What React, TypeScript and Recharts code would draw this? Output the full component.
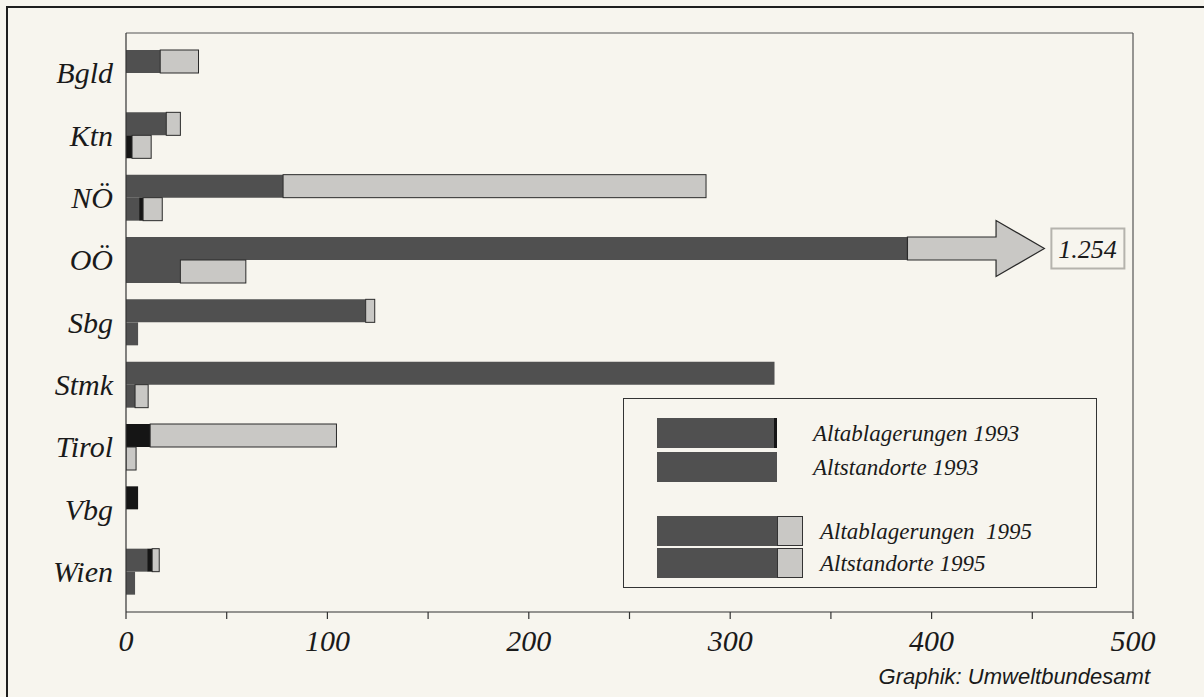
import React from 'react';
import { BarChart, Bar, XAxis, YAxis, Legend } from 'recharts';

// Bundesländer
const categories = ['Bgld', 'Ktn', 'NÖ', 'OÖ', 'Sbg', 'Stmk', 'Tirol', 'Vbg', 'Wien'];

// Altablagerungen: Stand 1993 / Stand 1995, davon schwarz gedruckter Teil
const altablagerungen1993 = [17, 20, 78, 388, 119, 322, 12, 6, 13];
const altablagerungen1995 = [36, 27, 288, 1254, 123.5, 322, 104.5, 6, 16.5];
const altablagerungenBlack = [0, 0, 0, 0, 0, 0, 12, 6, 2.5];

// Altstandorte
const altstandorte1993 = [0, 3, 8.5, 27, 6, 4.5, 0, 0, 4.5];
const altstandorte1995 = [0, 12.5, 18, 59.5, 6, 11, 5, 0, 4.5];
const altstandorteBlack = [0, 3, 2, 0, 0, 0, 0, 0, 0];

const xTicks = [0, 50, 100, 150, 200, 250, 300, 350, 400, 450, 500];
const xMax = 500;
// where the arrow for an overflowing bar starts its head / ends
const arrowHeadAt = 432;
const arrowTipAt = 456;

const legendItems = [
  { label: 'Altablagerungen 1993', added: false, edge: true },
  { label: 'Altstandorte 1993', added: false, edge: false },
  { label: 'Altablagerungen  1995', added: true, edge: false },
  { label: 'Altstandorte 1995', added: true, edge: false },
];

const DARK = '#505050';
const BLACK = '#151515';
const LIGHT = '#c9c8c5';
const PAPER = '#f7f5ee';
const SERIF = "'Liberation Serif', 'Times New Roman', serif";

const data = categories.map((name, i) => ({
  name,
  aDark: altablagerungen1993[i] - altablagerungenBlack[i],
  aBlack: altablagerungenBlack[i],
  aLight: altablagerungen1995[i] - altablagerungen1993[i],
  aStart: altablagerungen1993[i],
  aTotal: altablagerungen1995[i],
  bDark: altstandorte1993[i] - altstandorteBlack[i],
  bBlack: altstandorteBlack[i],
  bLight: altstandorte1995[i] - altstandorte1993[i],
  bStart: altstandorte1993[i],
  bTotal: altstandorte1995[i],
}));

const lightShape = (startKey: string, totalKey: string) => (props: any) => {
  const { x, y, width, height, payload } = props;
  if (!width || width <= 0.5) return null;
  const start = payload[startKey];
  const total = payload[totalKey];
  if (total <= xMax) {
    return <rect x={x} y={y} width={width} height={height} fill={LIGHT} stroke="#2a2a2a" strokeWidth={1} />;
  }
  // bar runs off the axis (recharts cuts it at xMax): draw it as an arrow with the real value beside it
  const ppu = width / (xMax - start);
  const body = x + (arrowHeadAt - start) * ppu;
  const tip = x + (arrowTipAt - start) * ppu;
  const cy = y + height / 2;
  const half = height * 1.22;
  const pts = [
    [x, y], [body, y], [body, cy - half], [tip, cy],
    [body, cy + half], [body, y + height], [x, y + height],
  ].map((p) => p.join(',')).join(' ');
  return (
    <g>
      <polygon points={pts} fill={LIGHT} stroke="#2a2a2a" strokeWidth={1.2} />
      <rect x={tip + 7} y={cy - 20} width={73} height={40} fill="none" stroke="#b5b3ad" strokeWidth={2} />
      <text x={tip + 43} y={cy} dy="0.35em" textAnchor="middle" fontFamily={SERIF} fontStyle="italic" fontSize={26} fill="#1a1a1a">
        {total.toLocaleString('de-DE')}
      </text>
    </g>
  );
};

const YTick = ({ x, y, payload }: any) => (
  <text x={x} y={y} dy="0.34em" textAnchor="end" fontFamily={SERIF} fontStyle="italic" fontSize={30} fill="#1a1a1a">
    {payload.value}
  </text>
);

const XTick = ({ x, y, payload }: any) => {
  if (payload.value % 100 !== 0) return null;
  return (
    <text x={x} y={y} dy={30} textAnchor="middle" fontFamily={SERIF} fontStyle="italic" fontSize={30} fill="#1a1a1a">
      {payload.value}
    </text>
  );
};

const LegendBox = () => (
  <div style={{ width: 474, height: 190, border: '1.5px solid #333', position: 'relative', boxSizing: 'border-box' }}>
    {legendItems.map((it, i) => {
      const top = [19, 53, 117, 149][i];
      return (
        <div key={it.label} style={{ position: 'absolute', left: 0, top, width: 474, height: 30 }}>
          <div style={{ position: 'absolute', left: 33, top: 0, width: 120, height: 30, background: DARK, boxSizing: 'border-box', borderRight: it.edge ? `3px solid ${BLACK}` : 'none' }} />
          {it.added && (
            <div style={{ position: 'absolute', left: 153, top: 0, width: 26, height: 30, background: LIGHT, border: '1px solid #333', boxSizing: 'border-box' }} />
          )}
          <div style={{ position: 'absolute', left: it.added ? 196 : 189, top: 1, fontFamily: SERIF, fontStyle: 'italic', fontSize: 23, color: '#1a1a1a', whiteSpace: 'pre', lineHeight: '30px' }}>
            {it.label}
          </div>
        </div>
      );
    })}
  </div>
);

export default function App() {
  return (
    <div style={{ position: 'absolute', left: 0, top: 0, width: 1204, height: 697, background: PAPER, overflow: 'hidden' }}>
      <div style={{ position: 'absolute', left: 6, top: 6, right: 0, height: 2, background: '#1e1e1e' }} />
      <div style={{ position: 'absolute', left: 6, top: 6, width: 2, bottom: 0, background: '#1e1e1e' }} />
      <BarChart
        width={1204}
        height={697}
        data={data}
        layout="vertical"
        barSize={23}
        barGap={0}
        margin={{ top: 32, right: 70, bottom: 0, left: 0 }}
      >
        <XAxis
          type="number"
          domain={[0, xMax]}
          ticks={xTicks}
          allowDataOverflow
          tick={<XTick />}
          tickSize={7}
          tickMargin={2}
          height={85}
          axisLine={{ stroke: '#333', strokeWidth: 1.2 }}
          tickLine={{ stroke: '#333', strokeWidth: 1.2 }}
        />
        <XAxis xAxisId="top" orientation="top" type="number" domain={[0, xMax]} tick={false} tickLine={false} height={1} axisLine={{ stroke: '#555', strokeWidth: 1.2 }} />
        <YAxis
          type="category"
          dataKey="name"
          width={126}
          padding={{ top: 9, bottom: 9 }}
          tick={<YTick />}
          tickSize={0}
          tickMargin={13}
          tickLine={false}
          axisLine={{ stroke: '#333', strokeWidth: 1.2 }}
        />
        <YAxis yAxisId="right" orientation="right" type="category" dataKey="name" width={1} tick={false} tickLine={false} axisLine={{ stroke: '#555', strokeWidth: 1.2 }} />
        <Legend
          layout="horizontal"
          verticalAlign="middle"
          align="center"
          content={<LegendBox />}
          wrapperStyle={{ left: 623, top: 398, width: 476, height: 192 }}
        />
        <Bar dataKey="aDark" stackId="a" fill={DARK} isAnimationActive={false} />
        <Bar dataKey="aBlack" stackId="a" fill={BLACK} isAnimationActive={false} />
        <Bar dataKey="aLight" stackId="a" fill={LIGHT} shape={lightShape('aStart', 'aTotal')} isAnimationActive={false} />
        <Bar dataKey="bDark" stackId="b" fill={DARK} isAnimationActive={false} />
        <Bar dataKey="bBlack" stackId="b" fill={BLACK} isAnimationActive={false} />
        <Bar dataKey="bLight" stackId="b" fill={LIGHT} shape={lightShape('bStart', 'bTotal')} isAnimationActive={false} />
      </BarChart>
      <div style={{ position: 'absolute', right: 54, top: 664, fontFamily: "'Liberation Sans', Arial, sans-serif", fontStyle: 'italic', fontSize: 22, color: '#1a1a1a' }}>
        Graphik: Umweltbundesamt
      </div>
    </div>
  );
}
